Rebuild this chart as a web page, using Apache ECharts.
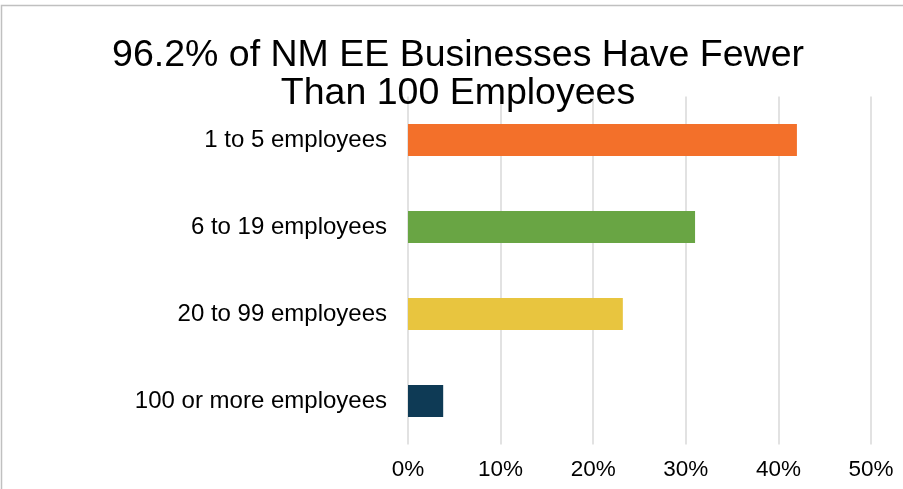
<!DOCTYPE html>
<html>
<head>
<meta charset="utf-8">
<script src="https://cdn.jsdelivr.net/npm/echarts@6/dist/echarts.min.js"></script>
<style>
html,body{margin:0;padding:0;background:#fff;}
#chart{width:903px;height:489px;}
</style>
</head>
<body>
<div id="chart"></div>
<script>
const categories = ['100 or more employees', '20 to 99 employees', '6 to 19 employees', '1 to 5 employees'];
const values = [3.8, 23.2, 31.0, 42.0];
const barColors = ['#0E3A55', '#E8C53F', '#69A544', '#F3702A'];
const xTicks = [0, 10, 20, 30, 40, 50];

const chart = echarts.init(document.getElementById('chart'), null, {renderer: 'canvas'});
chart.setOption({
  backgroundColor: '#fff',
  animation: false,
  title: {
    text: '96.2% of NM EE Businesses Have Fewer\nThan 100 Employees',
    left: 453,
    top: 31.5,
    textAlign: 'center',
    textStyle: {
      fontFamily: 'Liberation Sans, Arial, sans-serif',
      fontSize: 37.5,
      fontWeight: 'normal',
      color: '#000',
      lineHeight: 38
    }
  },
  graphic: [{
    type: 'polyline',
    shape: {points: [[1.5, 489], [1.5, 5.5], [903, 5.5]]},
    style: {stroke: '#C0C0C0', lineWidth: 1.5, fill: null},
    silent: true
  }],
  grid: {left: 408, right: 32, top: 96.5, bottom: 44.5, containLabel: false},
  xAxis: {
    type: 'value',
    min: xTicks[0],
    max: xTicks[xTicks.length - 1],
    interval: 10,
    axisLine: {show: false},
    axisTick: {show: false},
    splitLine: {show: true, lineStyle: {color: '#D9D9D9', width: 1.5}},
    axisLabel: {
      formatter: v => v + '%',
      fontFamily: 'Liberation Sans, Arial, sans-serif',
      fontSize: 22.5,
      color: '#000',
      margin: 14
    }
  },
  yAxis: {
    type: 'category',
    data: categories,
    axisLine: {show: false},
    axisTick: {show: false},
    axisLabel: {
      fontFamily: 'Liberation Sans, Arial, sans-serif',
      fontSize: 24,
      color: '#000',
      margin: 21
    }
  },
  series: [{
    type: 'bar',
    data: values.map((v, i) => ({value: v, itemStyle: {color: barColors[i]}})),
    barWidth: '36.5%'
  }]
});
</script>
</body>
</html>
